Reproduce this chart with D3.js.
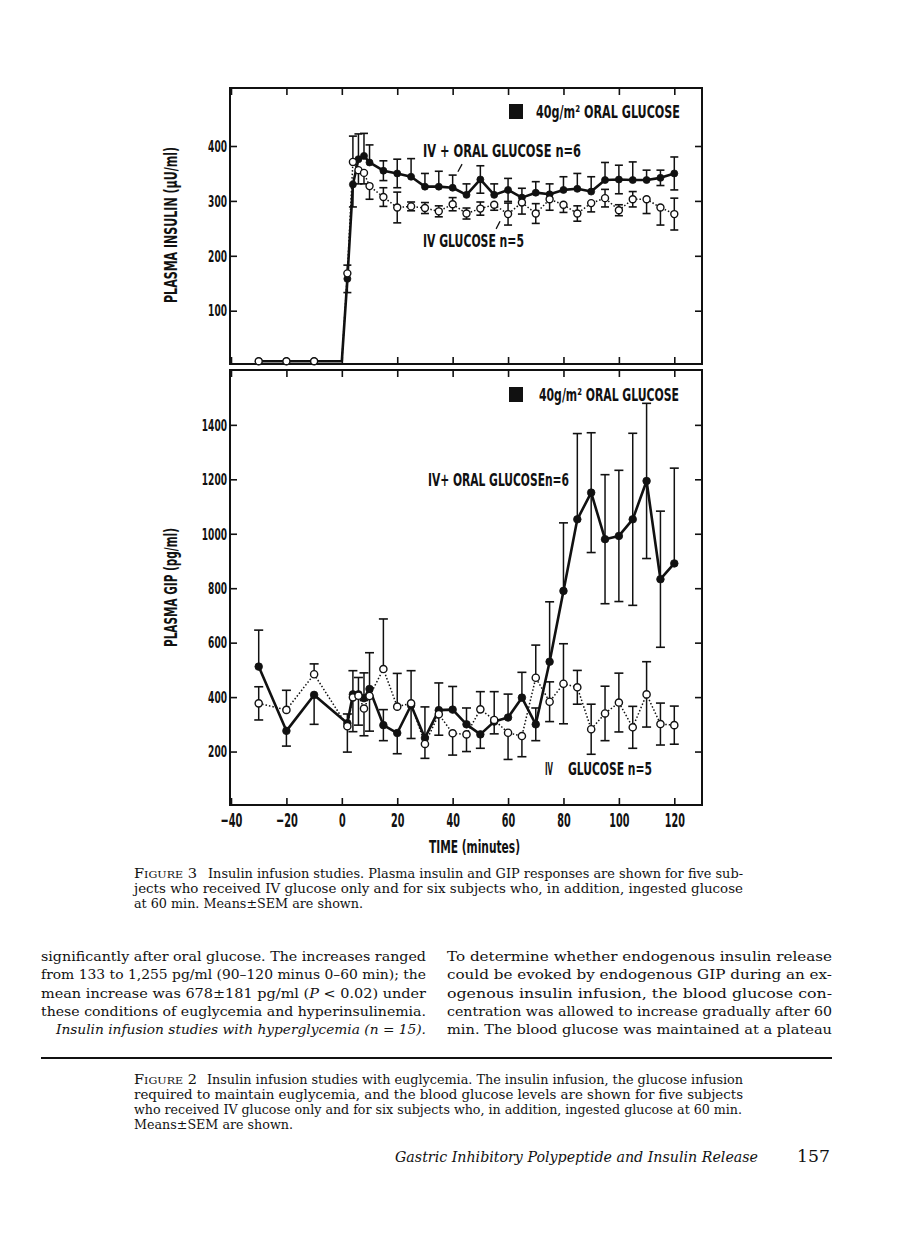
<!DOCTYPE html>
<html>
<head>
<meta charset="utf-8">
<script src="https://cdn.jsdelivr.net/npm/d3@7"></script>
<style>
  body { margin: 0; background: #fff; }
  svg { display: block; }
</style>
</head>
<body>
<svg width="898" height="1247"></svg>
<script>
/* ---- Data ---- */
var xTicks = [-40, -20, 0, 20, 40, 60, 80, 100, 120];
var insulinTicks = [100, 200, 300, 400];
var gipTicks = [200, 400, 600, 800, 1000, 1200, 1400];

// Plasma insulin (uU/ml)
var insulinTimes = [-30, -20, -10, 0, 2, 4, 6, 8, 10, 15, 20, 25, 30, 35, 40, 45, 50, 55, 60,
                    65, 70, 75, 80, 85, 90, 95, 100, 105, 110, 115, 120];
var insulinOral    = [8, 8, 8, 8, 158, 330, 376, 382, 370, 355, 350, 344, 326, 326, 324, 311, 339, 311, 320,
                      306, 315, 312, 320, 322, 317, 338, 339, 338, 338, 342, 350];
var insulinOralSem = [0, 0, 0, 0, 25, 41, 46, 41, 32, 18, 26, 33, 24, 28, 23, 20, 25, 20, 21,
                      17, 20, 19, 24, 28, 27, 32, 26, 33, 18, 14, 30];
var insulinIv      = [8, 8, 8, 8, 168, 371, 356, 351, 327, 307, 288, 290, 287, 281, 294, 277, 286, 293, 276,
                      297, 277, 303, 293, 277, 296, 305, 283, 303, 303, 288, 276];
var insulinIvSem   = [0, 0, 0, 0, 15, 47, 25, 20, 24, 17, 28, 8, 10, 10, 12, 10, 12, 10, 20,
                      21, 18, 20, 14, 14, 16, 16, 10, 14, 26, 32, 29];

// Plasma GIP (pg/ml)
var gipTimes = [-30, -20, -10, 2, 4, 6, 8, 10, 15, 20, 25, 30, 35, 40, 45, 50, 55, 60,
                65, 70, 75, 80, 85, 90, 95, 100, 105, 110, 115, 120];
var gipOral    = [512, 276, 408, 304, 410, 410, 396, 430, 297, 268, 370, 250, 352, 354, 300, 263, 310, 325,
                  398, 300, 530, 790, 1053, 1151, 980, 992, 1053, 1194, 833, 891];
var gipOralSem = [134, 56, 108, 34, 87, 62, 93, 133, 57, 76, 122, 114, 100, 85, 60, 51, 45, 86,
                  93, 60, 220, 250, 315, 220, 237, 241, 316, 285, 250, 350];
var gipIv      = [377, 353, 484, 293, 399, 405, 358, 404, 503, 365, 377, 228, 337, 267, 263, 355, 316, 269,
                  257, 471, 383, 449, 436, 282, 340, 380, 289, 410, 301, 297];
var gipIvSem   = [61, 72, 38, 95, 126, 108, 100, 129, 184, 122, 120, 53, 77, 80, 63, 65, 104, 98,
                  76, 120, 73, 147, 62, 92, 100, 108, 77, 120, 77, 70];

/* ---- Layout ---- */
var chartFont = "'Liberation Sans Narrow', 'DejaVu Sans Condensed', 'Liberation Sans', sans-serif";
var textFont = "'DejaVu Serif', 'Liberation Serif', serif";
var frameLeft = 230, frameRight = 702;

var svg = d3.select("svg");
svg.append("rect").attr("width", 898).attr("height", 1247).attr("fill", "#fff");

var xScale = d3.scaleLinear().domain([-40, 130]).range([231, 702]);
var yInsulin = d3.scaleLinear().domain([0, 400]).range([365.6, 146]);
var yGip = d3.scaleLinear().domain([0, 1400]).range([806, 424.85]);

function fmtTick(d) {
    return d < 0 ? "\u2212" + Math.abs(d) : String(d);
}

function addText(parent, str, x, y, size, width, family) {
    var t = parent.append("text")
        .attr("x", x).attr("y", y)
        .style("font-family", family)
        .style("font-size", size + "px")
        .attr("fill", "#111")
        .text(str);
    if (width) t.attr("textLength", width).attr("lengthAdjust", "spacingAndGlyphs");
    return t;
}

function chartText(str, x, y, size, width) {
    return addText(svg, str, x, y, size, width, chartFont).style("font-weight", "bold");
}

// Frame with inward ticks on all four sides
function drawFrame(top, bottom, yScale, yTicks, xLabels) {
    var g = svg.append("g");

    g.append("g").attr("transform", "translate(0," + top + ")")
        .call(d3.axisTop(xScale).tickValues(xTicks).tickSize(-7).tickFormat(""));
    var gBottom = g.append("g").attr("transform", "translate(0," + bottom + ")")
        .call(d3.axisBottom(xScale).tickValues(xTicks).tickSize(-7).tickPadding(8)
              .tickFormat(xLabels ? fmtTick : ""));
    var gLeft = g.append("g").attr("transform", "translate(" + frameLeft + ",0)")
        .call(d3.axisLeft(yScale).tickValues(yTicks).tickSize(-7).tickPadding(3)
              .tickFormat(function(d) { return String(d); }));
    g.append("g").attr("transform", "translate(" + frameRight + ",0)")
        .call(d3.axisRight(yScale).tickValues(yTicks).tickSize(-7).tickFormat(""));

    g.selectAll(".domain").remove();
    g.selectAll(".tick line").attr("stroke", "#111").attr("stroke-width", 1.6);

    gLeft.attr("font-family", chartFont).attr("font-size", 16.5).attr("font-weight", "bold");
    gLeft.selectAll("text").attr("fill", "#111")
        .attr("textLength", function(d) { return String(d).length * 6.3; })
        .attr("lengthAdjust", "spacingAndGlyphs");

    if (xLabels) {
        gBottom.attr("font-family", chartFont).attr("font-size", 20).attr("font-weight", "bold");
        gBottom.selectAll("text").attr("fill", "#111")
            .attr("textLength", function(d) { return String(Math.abs(d)).length * 6.7 + (d < 0 ? 8.5 : 0); })
            .attr("lengthAdjust", "spacingAndGlyphs");
    }

    g.append("rect")
        .attr("x", frameLeft).attr("y", top)
        .attr("width", frameRight - frameLeft).attr("height", bottom - top)
        .attr("fill", "none").attr("stroke", "#111").attr("stroke-width", 2);
}

// SEM bars; the half pointing at the other curve is left out when it would run into it
function drawBars(g, yScale, times, vals, sems, others, capW) {
    times.forEach(function(t, i) {
        var v = vals[i], e = sems[i], o = others[i];
        if (!e) return;
        var near = Math.abs(v - o) <= 2 * e;
        var hi = (v >= o || !near) ? v + e : v;
        var lo = (v <= o || !near) ? v - e : v;
        var x = xScale(t);
        g.append("line").attr("x1", x).attr("x2", x)
            .attr("y1", yScale(hi)).attr("y2", yScale(lo))
            .attr("stroke", "#111").attr("stroke-width", 1.5);
        [hi, lo].forEach(function(c) {
            if (c === v) return;
            g.append("line").attr("x1", x - capW).attr("x2", x + capW)
                .attr("y1", yScale(c)).attr("y2", yScale(c))
                .attr("stroke", "#111").attr("stroke-width", 1.6);
        });
    });
}

function drawLine(g, yScale, times, vals, filled) {
    var line = d3.line()
        .x(function(d, i) { return xScale(times[i]); })
        .y(function(d) { return yScale(d); });
    g.append("path").datum(vals)
        .attr("d", line)
        .attr("fill", "none")
        .attr("stroke", "#111")
        .attr("stroke-width", filled ? 2.6 : 1.5)
        .attr("stroke-dasharray", filled ? null : "1.5,2")
        .attr("stroke-linejoin", "round");
}

// no marker at the start of the infusion (t = 0), only at sampling times
function drawMarkers(g, yScale, times, vals, filled, r) {
    times.forEach(function(t, i) {
        if (t === 0) return;
        g.append("circle")
            .attr("cx", xScale(t)).attr("cy", yScale(vals[i]))
            .attr("r", r)
            .attr("fill", filled ? "#111" : "#fff")
            .attr("stroke", "#111")
            .attr("stroke-width", filled ? 0.8 : 1.4);
    });
}

/* ---- Top panel: plasma insulin ---- */
drawFrame(88, 364, yInsulin, insulinTicks, false);
var gIns = svg.append("g");
drawBars(gIns, yInsulin, insulinTimes, insulinOral, insulinOralSem, insulinIv, 4);
drawBars(gIns, yInsulin, insulinTimes, insulinIv, insulinIvSem, insulinOral, 4);
drawLine(gIns, yInsulin, insulinTimes, insulinOral, true);
drawLine(gIns, yInsulin, insulinTimes, insulinIv, false);
drawMarkers(gIns, yInsulin, insulinTimes, insulinOral, true, 3.5);
drawMarkers(gIns, yInsulin, insulinTimes, insulinIv, false, 3.5);

// legend and curve labels
svg.append("rect").attr("x", 509).attr("y", 104).attr("width", 14).attr("height", 15).attr("fill", "#111");
chartText("40g/m\u00b2 ORAL GLUCOSE", 536, 118, 17, 144);
chartText("IV + ORAL GLUCOSE n=6", 423, 157, 17, 158);
chartText("IV GLUCOSE n=5", 423, 247, 17, 101);
svg.append("line")
    .attr("x1", xScale(43.4)).attr("y1", yInsulin(367))
    .attr("x2", xScale(41.9)).attr("y2", yInsulin(353))
    .attr("stroke", "#111").attr("stroke-width", 1.3);
svg.append("line")
    .attr("x1", xScale(57.1)).attr("y1", yInsulin(263))
    .attr("x2", xScale(55.7)).attr("y2", yInsulin(249))
    .attr("stroke", "#111").attr("stroke-width", 1.3);
chartText("PLASMA INSULIN (\u03bcU/ml)", 0, 0, 18, 156)
    .attr("text-anchor", "middle")
    .attr("transform", "translate(177,225) rotate(-90)");

/* ---- Bottom panel: plasma GIP ---- */
drawFrame(370, 805, yGip, gipTicks, true);
var gGip = svg.append("g");
drawBars(gGip, yGip, gipTimes, gipOral, gipOralSem, gipIv, 4.5);
drawBars(gGip, yGip, gipTimes, gipIv, gipIvSem, gipOral, 4.5);
drawLine(gGip, yGip, gipTimes, gipOral, true);
drawLine(gGip, yGip, gipTimes, gipIv, false);
drawMarkers(gGip, yGip, gipTimes, gipOral, true, 3.8);
drawMarkers(gGip, yGip, gipTimes, gipIv, false, 3.6);

svg.append("rect").attr("x", 509).attr("y", 387).attr("width", 14).attr("height", 15).attr("fill", "#111");
chartText("40g/m\u00b2 ORAL GLUCOSE", 539, 401, 17, 140);
chartText("IV+ ORAL GLUCOSEn=6", 428, 486, 17, 141);
chartText("IV", 545, 775, 17, 8);
chartText("GLUCOSE n=5", 568, 775, 17, 84);
chartText("PLASMA GIP (pg/ml)", 0, 0, 18, 119)
    .attr("text-anchor", "middle")
    .attr("transform", "translate(177,587.5) rotate(-90)");
chartText("TIME (minutes)", 429, 853, 17, 91);

/* ---- Page text ---- */
function smallCapsFigure(x, y, num) {
    var t = svg.append("text").attr("x", x).attr("y", y)
        .style("font-family", textFont).attr("fill", "#111")
        .attr("textLength", 63).attr("lengthAdjust", "spacingAndGlyphs");
    t.append("tspan").style("font-size", "12.5px").text("F");
    t.append("tspan").style("font-size", "9.5px").text("IGURE");
    t.append("tspan").style("font-size", "12.5px").text(" " + num);
}

smallCapsFigure(134, 878, 3);
addText(svg, "Insulin infusion studies. Plasma insulin and GIP responses are shown for five sub-", 208, 878, 12, 535, textFont);
addText(svg, "jects who received IV glucose only and for six subjects who, in addition, ingested glucose", 134, 893, 12, 609, textFont);
addText(svg, "at 60 min. Means\u00b1SEM are shown.", 134, 908, 12, 229, textFont);

var bodyLeft = [
    "significantly after oral glucose. The increases ranged",
    "from 133 to 1,255 pg/ml (90\u2013120 minus 0\u201360 min); the",
    null,
    "these conditions of euglycemia and hyperinsulinemia."
];
var bodyRight = [
    "To determine whether endogenous insulin release",
    "could be evoked by endogenous GIP during an ex-",
    "ogenous insulin infusion, the blood glucose con-",
    "centration was allowed to increase gradually after 60",
    "min. The blood glucose was maintained at a plateau"
];
var bodyY = [961, 979.3, 997.6, 1015.9, 1034.2];

bodyLeft.forEach(function(s, i) {
    if (s) addText(svg, s, 41, bodyY[i], 13.5, 385, textFont);
});
var l3 = addText(svg, "", 41, bodyY[2], 13.5, 385, textFont);
l3.append("tspan").text("mean increase was 678\u00b1181 pg/ml (");
l3.append("tspan").style("font-style", "italic").text("P");
l3.append("tspan").text(" < 0.02) under");
addText(svg, "Insulin infusion studies with hyperglycemia (n = 15).", 56, bodyY[4], 13.5, 370, textFont)
    .style("font-style", "italic");
bodyRight.forEach(function(s, i) {
    addText(svg, s, 447, bodyY[i], 13.5, 385, textFont);
});

svg.append("line").attr("x1", 41).attr("x2", 832).attr("y1", 1058).attr("y2", 1058)
    .attr("stroke", "#111").attr("stroke-width", 2);

smallCapsFigure(134, 1084, 2);
addText(svg, "Insulin infusion studies with euglycemia. The insulin infusion, the glucose infusion", 207, 1084, 12, 536, textFont);
addText(svg, "required to maintain euglycemia, and the blood glucose levels are shown for five subjects", 134, 1099, 12, 609, textFont);
addText(svg, "who received IV glucose only and for six subjects who, in addition, ingested glucose at 60 min.", 134, 1113.5, 12, 608, textFont);
addText(svg, "Means\u00b1SEM are shown.", 134, 1128.5, 12, 159, textFont);

addText(svg, "Gastric Inhibitory Polypeptide and Insulin Release", 395, 1162, 14, 363, textFont)
    .style("font-style", "italic");
addText(svg, "157", 797, 1162, 17, 33, textFont);
</script>
</body>
</html>
